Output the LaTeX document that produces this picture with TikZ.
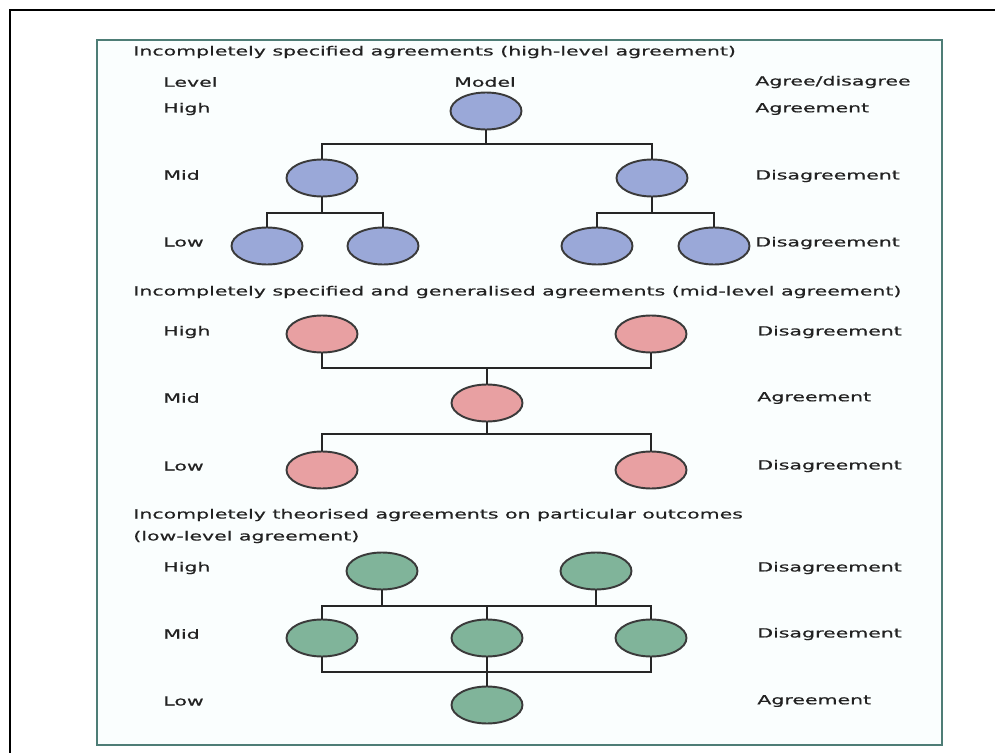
\documentclass[tikz,border=0pt]{standalone}
\usepackage{fontspec}
\usetikzlibrary{shapes.geometric}
\newfontfamily\figfont{DejaVu Sans}[FakeStretch=1.62, FakeBold=0.6]
\definecolor{boxteal}{HTML}{4E7D76}
\definecolor{boxfill}{HTML}{FAFEFE}
\definecolor{rimgray}{HTML}{3A3A3A}
\definecolor{linkgray}{HTML}{262626}
\definecolor{txtgray}{HTML}{222222}
\definecolor{highblue}{HTML}{9AA8D8}
\definecolor{midpink}{HTML}{E8A0A2}
\definecolor{lowgreen}{HTML}{80B49A}

\begin{document}
\begin{tikzpicture}
[x=0.02cm, y=-0.02cm,
% The lbl style is used for the level and agree/disagree words
lbl/.style={anchor=west, inner sep=0pt, text=txtgray, font=\figfont\fontsize{7.2pt}{12.5pt}\selectfont},
% The heading style is used for the title of each part
heading/.style={lbl, align=left},
% The model style is used to draw the circles
model/.style={ellipse, draw=rimgray, line width=1.1pt, inner sep=0pt, minimum width=1.42cm, minimum height=0.74cm},
link/.style={draw=linkgray, line width=1pt}
]
\useasboundingbox (0,0) rectangle (995,753);
% Frame
\draw[line width=1.7pt] (10,753) -- (10,10) -- (995,10);
\draw[draw=boxteal, fill=boxfill, line width=1.7pt] (97,40) rectangle (942,745);

% Part one: high-level agreement
\node[heading] (tA) at (133,52) {Incompletely specified agreements (high-level agreement)};
\node[lbl] (levA) at (163,82) {Level};
\node[lbl, anchor=center] (modA) at (485,82) {Model};
\node[lbl] (agdA) at (755,82) {Agree/disagree};
\node[lbl] (hiA) at (163,109) {High};
\node[lbl] (miA) at (163,175) {Mid};
\node[lbl] (loA) at (163,242) {Low};
\node[lbl] (rhA) at (755,109) {Agreement};
\node[lbl] (rmA) at (755,176) {Disagreement};
\node[lbl] (rlA) at (755,243) {Disagreement};

\node[model, fill=highblue] (a0) at (486,111) {};
\node[model, fill=highblue] (a1) at (322,178) {};
\node[model, fill=highblue] (a2) at (652,178) {};
\node[model, fill=highblue] (a11) at (267,246) {};
\node[model, fill=highblue] (a12) at (383,246) {};
\node[model, fill=highblue] (a21) at (597,246) {};
\node[model, fill=highblue] (a22) at (714,246) {};

\coordinate (ja) at (486,144);
\coordinate (ja1) at (322,213);
\coordinate (ja2) at (652,213);
\draw[link] (a0) -- (ja);
\draw[link] (a1.north) |- (ja) -| (a2.north);
\draw[link] (a1) -- (ja1);
\draw[link] (a11.north) |- (ja1) -| (a12.north);
\draw[link] (a2) -- (ja2);
\draw[link] (a21.north) |- (ja2) -| (a22.north);

% Part two: mid-level agreement
\node[heading] (tB) at (133,292) {Incompletely specified and generalised agreements (mid-level agreement)};
\node[lbl] (hiB) at (163,332) {High};
\node[lbl] (miB) at (163,398) {Mid};
\node[lbl] (loB) at (163,466) {Low};
\node[lbl] (rhB) at (757,332) {Disagreement};
\node[lbl] (rmB) at (757,398) {Agreement};
\node[lbl] (rlB) at (757,466) {Disagreement};

\node[model, fill=midpink] (bh1) at (322,334) {};
\node[model, fill=midpink] (bh2) at (651,334) {};
\node[model, fill=midpink] (bm) at (487,403) {};
\node[model, fill=midpink] (bl1) at (322,470) {};
\node[model, fill=midpink] (bl2) at (651,470) {};

\coordinate (jb) at (487,368);
\coordinate (jb2) at (487,434);
\draw[link] (bh1.south) |- (jb) -| (bh2.south);
\draw[link] (jb) -- (bm);
\draw[link] (bm) -- (jb2);
\draw[link] (bl1.north) |- (jb2) -| (bl2.north);

% Part three: low-level agreement
\node[heading] (tC) at (133,526) {Incompletely theorised agreements on particular outcomes\\(low-level agreement)};
\node[lbl] (hiC) at (163,568) {High};
\node[lbl] (miC) at (163,634) {Mid};
\node[lbl] (loC) at (163,701) {Low};
\node[lbl] (rhC) at (757,568) {Disagreement};
\node[lbl] (rmC) at (757,634) {Disagreement};
\node[lbl] (rlC) at (757,701) {Agreement};

\node[model, fill=lowgreen] (ch1) at (382,571) {};
\node[model, fill=lowgreen] (ch2) at (596,571) {};
\node[model, fill=lowgreen] (cm1) at (322,638) {};
\node[model, fill=lowgreen] (cm2) at (487,638) {};
\node[model, fill=lowgreen] (cm3) at (651,638) {};
\node[model, fill=lowgreen] (cl) at (487,705) {};

\coordinate (jc) at (487,606);
\coordinate (jc2) at (487,672);
\draw[link] (cm1.north) |- (jc) -| (cm3.north);
\draw[link] (ch1) -- (ch1 |- jc);
\draw[link] (ch2) -- (ch2 |- jc);
\draw[link] (jc) -- (cm2);
\draw[link] (cm1.south) |- (jc2) -| (cm3.south);
\draw[link] (cm2) -- (cl);
\end{tikzpicture}
\end{document}
